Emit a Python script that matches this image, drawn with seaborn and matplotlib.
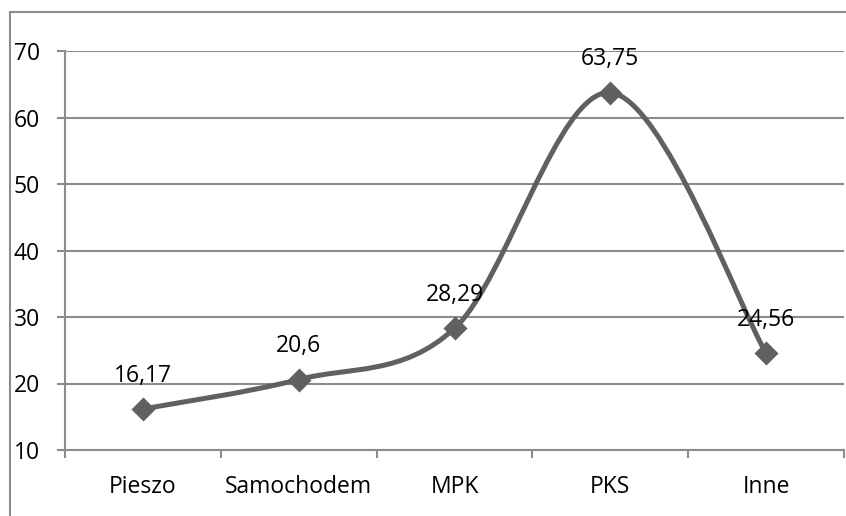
import numpy as np
import pandas as pd
import matplotlib
matplotlib.use("Agg")
from matplotlib import pyplot as plt
from matplotlib.path import Path
from matplotlib.patches import PathPatch, Rectangle
import seaborn as sns

# Data
categories = ["Pieszo", "Samochodem", "MPK", "PKS", "Inne"]
values = [16.17, 20.6, 28.29, 63.75, 24.56]
value_labels = ["16,17", "20,6", "28,29", "63,75", "24,56"]
y_ticks = [10, 20, 30, 40, 50, 60, 70]

sns.set_style("white")
plt.rcParams["font.family"] = ["Open Sans", "DejaVu Sans"]

line_color = "#606060"
grid_color = "#8c8c8c"
fs = 16.5

fig = plt.figure(figsize=(8.46, 5.16), dpi=100)
ax = fig.add_axes([65 / 846, 1 - 450 / 516, 779 / 846, 399 / 516])

df = pd.DataFrame({"cat": categories, "val": values})
xs = np.arange(len(categories))

# Excel-style smoothed line: cubic Bezier segments between points
pts = np.column_stack([xs, values]).astype(float)
verts = [tuple(pts[0])]
codes = [Path.MOVETO]
n = len(pts)
for i in range(n - 1):
    p0 = pts[max(i - 1, 0)]
    p1 = pts[i]
    p2 = pts[i + 1]
    p3 = pts[min(i + 2, n - 1)]
    c1 = p1 + (p2 - p0) / 6
    c2 = p2 - (p3 - p1) / 6
    verts += [tuple(c1), tuple(c2), tuple(p2)]
    codes += [Path.CURVE4] * 3
ax.add_patch(PathPatch(Path(verts, codes), facecolor="none", edgecolor=line_color,
                       lw=3.6, capstyle="round", joinstyle="round", zorder=3))

sns.scatterplot(x=xs, y=df["val"], marker="D", s=150, color=line_color,
                edgecolor=line_color, linewidth=0, ax=ax, zorder=4)

for x, v, lab in zip(xs, values, value_labels):
    ax.annotate(lab, (x, v), xytext=(0, 24), textcoords="offset points",
                ha="center", va="center", fontsize=fs, color="black")

ax.set_xlim(-0.5, len(categories) - 0.5)
ax.set_ylim(10, 70)
ax.set_yticks(y_ticks)
ax.set_yticklabels([str(t) for t in y_ticks])
ax.set_xticks(xs)
ax.set_xticklabels(categories)
ax.set_xticks(np.arange(-0.5, len(categories)), minor=True)
ax.set_xlabel("")
ax.set_ylabel("")

ax.grid(axis="y", color=grid_color, lw=1.5)
ax.set_axisbelow(True)
for s in ["top", "right"]:
    ax.spines[s].set_visible(False)
for s in ["left", "bottom"]:
    ax.spines[s].set_color(grid_color)
    ax.spines[s].set_linewidth(1.5)

ax.tick_params(axis="y", which="major", length=6, width=1.5, color=grid_color,
               labelsize=fs, labelcolor="black", pad=12, left=True)
ax.tick_params(axis="x", which="major", length=0, labelsize=fs,
               labelcolor="black", pad=18)
ax.tick_params(axis="x", which="minor", length=6, width=1.5, color=grid_color,
               bottom=True, direction="out")

# outer chart frame
fig.patches.append(Rectangle((10 / 846, -0.05), 1.2, 1 - 12 / 516 + 0.05,
                             transform=fig.transFigure, fill=False,
                             edgecolor=grid_color, lw=1.5))

fig.savefig("out.png", dpi=100)
